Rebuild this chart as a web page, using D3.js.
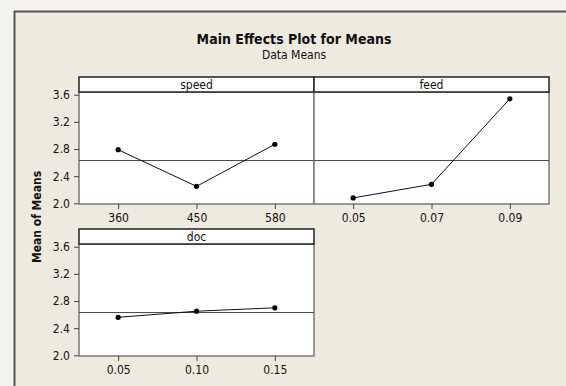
<!DOCTYPE html>
<html>
<head>
<meta charset="utf-8">
<script src="https://cdn.jsdelivr.net/npm/d3@7"></script>
<style>
  html, body { margin: 0; padding: 0; overflow: hidden; background: #f4f3ef; }
  svg { display: block; overflow: hidden; }
  text { font-family: "DejaVu Sans Condensed", "DejaVu Sans", sans-serif; fill: #111; }
</style>
</head>
<body>
<svg id="chart" width="566" height="386"></svg>
<script>
// factor levels (categorical, equally spaced)
let speedLevels = ["360", "450", "580"];
let feedLevels = ["0.05", "0.07", "0.09"];
let docLevels = ["0.05", "0.10", "0.15"];

// means of means for each level
let speedMeans = [2.79, 2.25, 2.87];
let feedMeans = [2.08, 2.28, 3.54];
let docMeans = [2.56, 2.65, 2.70];

let grandMean = 2.63;
let yTicks = [2.0, 2.4, 2.8, 3.2, 3.6];

let panels = [
  { name: "speed", levels: speedLevels, means: speedMeans, col: 0, row: 0 },
  { name: "feed", levels: feedLevels, means: feedMeans, col: 1, row: 0 },
  { name: "doc", levels: docLevels, means: docMeans, col: 0, row: 1 }
];

let svg = d3.select("#chart");

// outer frame background, runs off the right and bottom edges
svg.append("rect")
    .attr("x", 14)
    .attr("y", 11)
    .attr("width", 560)
    .attr("height", 380)
    .attr("fill", "#eeeae0");

svg.append("line")
    .attr("x1", 14.5).attr("y1", 11)
    .attr("x2", 14.5).attr("y2", 386)
    .attr("stroke", "#555")
    .attr("stroke-width", 2);

svg.append("line")
    .attr("x1", 14).attr("y1", 11.5)
    .attr("x2", 566).attr("y2", 11.5)
    .attr("stroke", "#555")
    .attr("stroke-width", 2);

svg.append("text")
    .attr("x", 294)
    .attr("y", 44)
    .attr("text-anchor", "middle")
    .style("font-size", "14px")
    .style("font-weight", "bold")
    .text("Main Effects Plot for Means");

svg.append("text")
    .attr("x", 294)
    .attr("y", 59)
    .attr("text-anchor", "middle")
    .style("font-size", "12px")
    .text("Data Means");

svg.append("text")
    .attr("transform", "translate(41,217) rotate(-90)")
    .attr("text-anchor", "middle")
    .style("font-size", "12px")
    .style("font-weight", "bold")
    .text("Mean of Means");

let panelW = 235;
let stripH = 15;
let plotH = 112;
let origin = { x: 79, y: 77 };
let rowStep = 152;

let y = d3.scaleLinear()
    .domain([1.99, 3.64])
    .range([plotH, 0]);

let line = d3.line();

panels.forEach(function(p) {
  let g = svg.append("g")
      .attr("transform", `translate(${origin.x + p.col * panelW},${origin.y + p.row * rowStep})`);

  let x = d3.scalePoint()
      .domain(p.levels)
      .range([0, panelW])
      .padding(0.5);

  let plot = g.append("g")
      .attr("transform", `translate(0,${stripH})`);

  plot.append("rect")
      .attr("width", panelW)
      .attr("height", plotH)
      .attr("fill", "#fff")
      .attr("stroke", "#7a7a7a")
      .attr("stroke-width", 1.5);

  // strip
  g.append("rect")
      .attr("width", panelW)
      .attr("height", stripH)
      .attr("fill", "#fff")
      .attr("stroke", "#222")
      .attr("stroke-width", 1.5);

  g.append("text")
      .attr("x", panelW / 2)
      .attr("y", stripH / 2 + 4)
      .attr("text-anchor", "middle")
      .style("font-size", "12px")
      .text(p.name);

  // reference line at grand mean
  plot.append("line")
      .attr("x1", 0)
      .attr("x2", panelW)
      .attr("y1", y(grandMean))
      .attr("y2", y(grandMean))
      .attr("stroke", "#444")
      .attr("stroke-width", 1);

  let pts = p.levels.map((lv, i) => [x(lv), y(p.means[i])]);

  plot.append("path")
      .attr("d", line(pts))
      .attr("fill", "none")
      .attr("stroke", "#111")
      .attr("stroke-width", 1);

  plot.selectAll(".pt")
      .data(pts)
    .enter().append("circle")
      .attr("class", "pt")
      .attr("cx", (d) => d[0])
      .attr("cy", (d) => d[1])
      .attr("r", 2.6)
      .attr("fill", "#000");

  // x axis
  let xAxis = plot.append("g")
      .attr("transform", `translate(0,${plotH})`)
      .call(d3.axisBottom(x).tickSize(5).tickPadding(4));
  xAxis.select(".domain").remove();
  xAxis.selectAll("text").style("font-size", "12px").attr("fill", "#111");
  xAxis.selectAll("line").attr("stroke", "#444");

  // y axis only on first column
  if (p.col === 0) {
    let yAxis = plot.append("g")
        .call(d3.axisLeft(y).tickValues(yTicks).tickFormat(d3.format(".1f")).tickSize(5).tickPadding(4));
    yAxis.select(".domain").remove();
    yAxis.selectAll("text").style("font-size", "12px").attr("fill", "#111");
    yAxis.selectAll("line").attr("stroke", "#444");
  }
});
</script>
</body>
</html>
